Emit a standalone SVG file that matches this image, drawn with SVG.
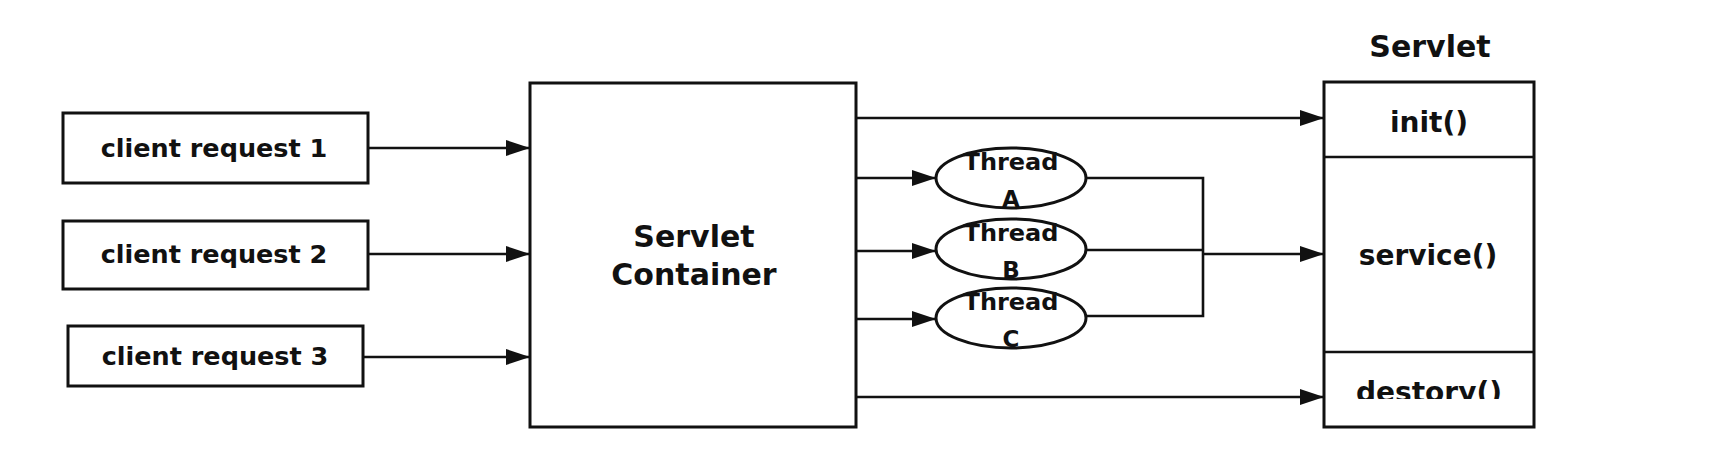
<svg xmlns="http://www.w3.org/2000/svg" width="1720" height="450" viewBox="0 0 1720 450">
<style>
  .box { fill: #fff; stroke: #111; stroke-width: 3; }
  .ln { fill: none; stroke: #111; stroke-width: 2.6; }
  .arr { fill: none; stroke: #111; stroke-width: 2.6; marker-end: url(#ah); }
  text { font-family: "DejaVu Sans", "Liberation Sans", sans-serif; font-weight: bold; fill: #111; text-anchor: middle; }
  .t25 { font-size: 25.5px; }
  .t30 { font-size: 30px; }
  .t28 { font-size: 28px; }
  .t21 { font-size: 23px; }
</style>
<defs>
  <marker id="ah" markerUnits="userSpaceOnUse" markerWidth="24" markerHeight="16" refX="24" refY="8" orient="auto">
    <path d="M0,0 L24,8 L0,16 z" fill="#111"/>
  </marker>
  <clipPath id="clipDestroy">
    <rect x="1326" y="354" width="206" height="45"/>
  </clipPath>
</defs>
<rect width="1720" height="450" fill="#fff"/>

<g id="client1">
  <rect class="box" x="63" y="113" width="305" height="70"/>
  <text class="t25" x="214" y="157">client request 1</text>
</g>
<g id="client2">
  <rect class="box" x="63" y="221" width="305" height="68"/>
  <text class="t25" x="214" y="263">client request 2</text>
</g>
<g id="client3">
  <rect class="box" x="68" y="326" width="295" height="60"/>
  <text class="t25" x="215" y="365">client request 3</text>
</g>

<g id="container">
  <rect class="box" x="530" y="83" width="326" height="344"/>
  <text class="t30" x="694" y="247">Servlet</text>
  <text class="t30" x="694" y="285">Container</text>
</g>

<g id="threadA">
  <ellipse class="box" cx="1011" cy="178" rx="75" ry="30"/>
  <text class="t21" x="1011" y="170" textLength="95" lengthAdjust="spacingAndGlyphs">Thread</text>
  <text class="t21" x="1011" y="207">A</text>
</g>
<g id="threadB">
  <ellipse class="box" cx="1011" cy="249" rx="75" ry="30"/>
  <text class="t21" x="1011" y="241" textLength="95" lengthAdjust="spacingAndGlyphs">Thread</text>
  <text class="t21" x="1011" y="278">B</text>
</g>
<g id="threadC">
  <ellipse class="box" cx="1011" cy="318" rx="75" ry="30"/>
  <text class="t21" x="1011" y="310" textLength="95" lengthAdjust="spacingAndGlyphs">Thread</text>
  <text class="t21" x="1011" y="347">C</text>
</g>

<g id="servlet">
  <text class="t30" x="1430" y="57">Servlet</text>
  <rect class="box" x="1324" y="82" width="210" height="345"/>
  <line class="ln" x1="1324" y1="157" x2="1534" y2="157"/>
  <line class="ln" x1="1324" y1="352" x2="1534" y2="352"/>
  <text class="t28" x="1429" y="132">init()</text>
  <text class="t28" x="1428" y="265">service()</text>
  <text class="t28" x="1429" y="402" clip-path="url(#clipDestroy)">destory()</text>
</g>

<g id="connectors">
  <line class="arr" x1="368" y1="148" x2="530" y2="148"/>
  <line class="arr" x1="368" y1="254" x2="530" y2="254"/>
  <line class="arr" x1="363" y1="357" x2="530" y2="357"/>
  <line class="arr" x1="856" y1="118" x2="1324" y2="118"/>
  <line class="arr" x1="856" y1="178" x2="936" y2="178"/>
  <line class="arr" x1="856" y1="251" x2="936" y2="251"/>
  <line class="arr" x1="856" y1="319" x2="936" y2="319"/>
  <polyline class="ln" points="1086,178 1203,178 1203,316 1086,316"/>
  <line class="ln" x1="1086" y1="250" x2="1203" y2="250"/>
  <line class="arr" x1="1203" y1="254" x2="1324" y2="254"/>
  <line class="arr" x1="856" y1="397" x2="1324" y2="397"/>
</g>
</svg>
